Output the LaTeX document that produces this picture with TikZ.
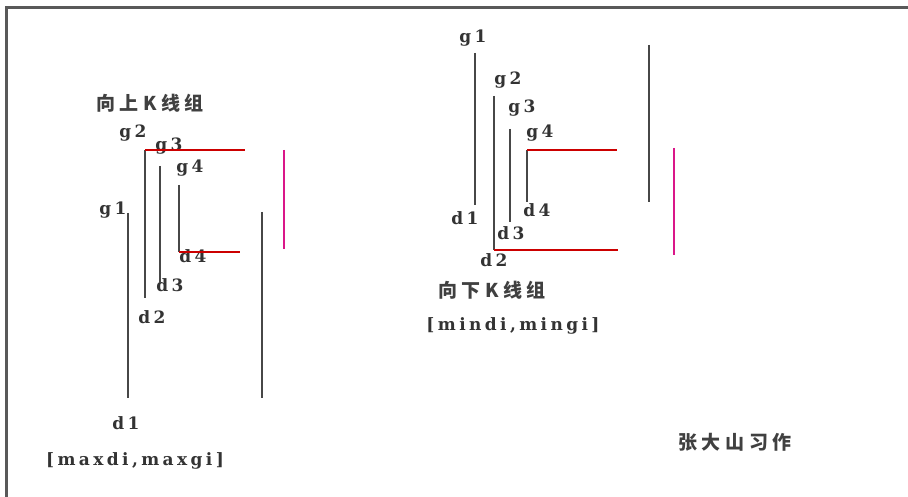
\documentclass[tikz,border=0pt]{standalone}
\usepackage{fontspec}
\setmainfont{Liberation Serif}
\newfontfamily\lblfont[LetterSpace=20]{DejaVu Serif}
\newfontfamily\cjk[LetterSpace=24]{Noto Sans CJK SC}
\usetikzlibrary{positioning}

\begin{document}
\begin{tikzpicture}[x=1pt, y=-1pt]
    % Define styles
    \tikzstyle{lbl} = [inner sep=0pt, font=\lblfont\bfseries\fontsize{17}{17}\selectfont, text=black!80]
    \tikzstyle{title} = [inner sep=0pt, font=\cjk\bfseries\fontsize{19}{19}\selectfont, text=black!75]
    \tikzstyle{bar} = [line width=1.8pt, black!72]
    \tikzstyle{redline} = [line width=1.8pt, red!80!black]
    \tikzstyle{pinkline} = [line width=2pt, magenta!80!violet]
    \useasboundingbox (0,0) rectangle (908,497);

    % Frame
    \draw[line width=3pt, black!65] (6,497) -- (6,8) -- (908,8);

    % Up group
    \node[title] (uptitle) at (150,103) {向上K线组};
    \node[lbl] (ug1) at (113,210) {g1};
    \node[lbl] (ug2) at (133,133) {g2};
    \node[lbl] (ug3) at (169,146) {g3};
    \node[lbl] (ug4) at (190,168) {g4};
    \node[lbl] (ud1) at (126,423) {d1};
    \node[lbl] (ud2) at (152,317) {d2};
    \node[lbl] (ud3) at (170,285) {d3};
    \node[lbl] (ud4) at (193,256) {d4};
    \node[lbl] (uprange) at (135,461) {[maxdi,maxgi]};

    \coordinate (ub1t) at (128,213);  \coordinate (ub1b) at (128,398);
    \coordinate (ub2t) at (145,150);  \coordinate (ub2b) at (145,298);
    \coordinate (ub3t) at (160,166);  \coordinate (ub3b) at (160,283);
    \coordinate (ub4t) at (179,185);  \coordinate (ub4b) at (179,252);
    \coordinate (uhi) at (245,150);   \coordinate (ulo) at (240,252);
    \coordinate (ugt) at (262,212);   \coordinate (ugb) at (262,398);
    \coordinate (upt) at (284,150);   \coordinate (upb) at (284,249);

    \draw[bar] (ub1t) -- (ub1b);
    \draw[bar] (ub2t) -- (ub2b);
    \draw[bar] (ub3t) -- (ub3b);
    \draw[bar] (ub4t) -- (ub4b);
    \draw[redline] (ub2t) -- (uhi);
    \draw[redline] (ub4b) -- (ulo);
    \draw[bar] (ugt) -- (ugb);
    \draw[pinkline] (upt) -- (upb);

    % Down group
    \node[lbl] (dg1) at (473,38) {g1};
    \node[lbl] (dg2) at (508,80) {g2};
    \node[lbl] (dg3) at (522,108) {g3};
    \node[lbl] (dg4) at (540,133) {g4};
    \node[lbl] (dd1) at (465,218) {d1};
    \node[lbl] (dd2) at (494,260) {d2};
    \node[lbl] (dd3) at (511,233) {d3};
    \node[lbl] (dd4) at (537,210) {d4};
    \node[title] (downtitle) at (492,290) {向下K线组};
    \node[lbl] (downrange) at (513,326) {[mindi,mingi]};

    \coordinate (db1t) at (475,53);   \coordinate (db1b) at (475,205);
    \coordinate (db2t) at (494,96);   \coordinate (db2b) at (494,250);
    \coordinate (db3t) at (510,129);  \coordinate (db3b) at (510,222);
    \coordinate (db4t) at (527,150);  \coordinate (db4b) at (527,202);
    \coordinate (dhi) at (617,150);   \coordinate (dlo) at (618,250);
    \coordinate (dgt) at (649,45);    \coordinate (dgb) at (649,202);
    \coordinate (dpt) at (674,148);   \coordinate (dpb) at (674,255);

    \draw[bar] (db1t) -- (db1b);
    \draw[bar] (db2t) -- (db2b);
    \draw[bar] (db3t) -- (db3b);
    \draw[bar] (db4t) -- (db4b);
    \draw[redline] (db4t) -- (dhi);
    \draw[redline] (db2b) -- (dlo);
    \draw[bar] (dgt) -- (dgb);
    \draw[pinkline] (dpt) -- (dpb);

    % Author
    \node[title] (author) at (735,442) {张大山习作};
\end{tikzpicture}
\end{document}
